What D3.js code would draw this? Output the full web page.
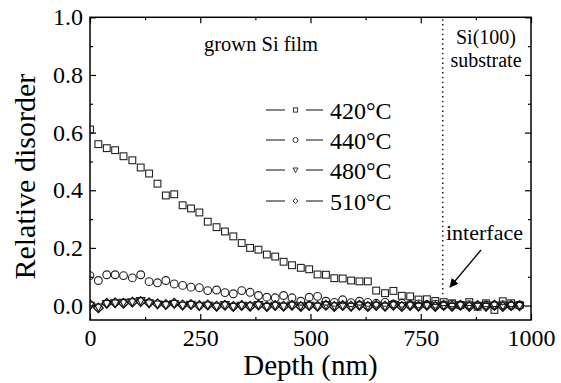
<!DOCTYPE html>
<html lang="en">
<head>
<meta charset="UTF-8">
<title>Relative disorder vs depth</title>
<script src="https://cdn.jsdelivr.net/npm/d3@7"></script>
<style>
  body { margin: 0; background: #fff; }
  svg { font-family: "Liberation Serif", "Times New Roman", serif; }
</style>
</head>
<body>
<div id="chart"></div>
<script>
// depth points (nm), shared by all four series
var depth = [0, 19, 38, 57, 76, 96, 115, 134, 153, 172, 191, 210, 229, 248, 267, 287,
  306, 325, 344, 363, 382, 401, 420, 439, 458, 478, 497, 516, 535, 554, 573, 592,
  611, 630, 649, 669, 688, 707, 726, 745, 764, 783, 802, 821, 840, 860, 879, 898,
  917, 936, 955, 974];

var d420 = [0.611, 0.56, 0.546, 0.539, 0.518, 0.504, 0.479, 0.458, 0.423, 0.382, 0.386,
  0.348, 0.337, 0.323, 0.291, 0.272, 0.257, 0.240, 0.217, 0.200, 0.194, 0.177, 0.170,
  0.152, 0.140, 0.131, 0.126, 0.108, 0.107, 0.095, 0.094, 0.087, 0.084, 0.084, 0.052,
  0.043, 0.051, 0.034, 0.032, 0.021, 0.022, 0.016, 0.012, 0.008, 0.002, 0.012, -0.004,
  0.008, -0.015, 0.015, 0.008, 0.002];

var d440 = [0.104, 0.087, 0.107, 0.107, 0.104, 0.096, 0.107, 0.083, 0.079, 0.087, 0.075,
  0.070, 0.064, 0.062, 0.052, 0.054, 0.045, 0.041, 0.052, 0.046, 0.035, 0.029, 0.027,
  0.035, 0.027, 0.015, 0.029, 0.032, 0.015, 0.011, 0.020, 0.010, 0.015, 0.011, 0.008,
  0.011, 0.006, 0.008, 0.004, 0.006, 0.003, 0.005, 0.002, 0.004, 0.001, 0.003, 0.0,
  0.002, 0.001, 0.003, 0.0, 0.002];

var d480 = [0.0, -0.006, 0.006, 0.008, 0.01, 0.012, 0.016, 0.008, 0.004, 0.002, 0.006,
  0.0, 0.003, -0.002, 0.001, -0.003, 0.002, -0.004, 0.0, -0.002, 0.002, -0.004, 0.0,
  -0.003, 0.001, -0.002, 0.0, -0.003, 0.002, -0.002, 0.0, -0.004, 0.001, -0.002, 0.0,
  -0.003, 0.002, -0.001, 0.0, -0.003, 0.001, -0.002, 0.0, -0.004, 0.001, -0.002, 0.0,
  -0.004, 0.001, -0.002, 0.0, -0.001];

var d510 = [0.004, -0.008, 0.008, 0.01, 0.008, 0.012, 0.014, 0.01, 0.006, 0.004, 0.008,
  0.002, 0.004, 0.0, 0.002, -0.002, 0.001, -0.003, 0.0, -0.002, 0.002, -0.003, 0.0,
  -0.002, 0.001, -0.003, 0.0, -0.002, 0.001, -0.003, 0.0, -0.002, 0.001, -0.003, 0.0,
  -0.002, 0.001, -0.003, 0.0, -0.002, 0.001, -0.003, 0.0, -0.002, 0.001, -0.003, 0.0,
  -0.002, 0.001, -0.003, 0.0, -0.001];

var seriesNames = ["420°C", "440°C", "480°C", "510°C"];
var seriesVals = [d420, d440, d480, d510];
var xTicks = [0, 250, 500, 750, 1000];
var xMinor = [125, 375, 625, 875];
var yTicks = [0.0, 0.2, 0.4, 0.6, 0.8, 1.0];
var yMinor = [0.1, 0.3, 0.5, 0.7, 0.9];

var W = 561, H = 383;
var pL = 90, pR = 531, pT = 17.3, pB = 320;

var svg = d3.select("#chart").append("svg")
    .attr("width", W).attr("height", H);

var x = d3.scaleLinear().domain([0, 1000]).range([pL, pR]);
var y = d3.scaleLinear().domain([-0.05, 1.0]).range([pB, pT]);

svg.append("clipPath").attr("id", "plot")
  .append("rect")
    .attr("x", pL).attr("y", pT)
    .attr("width", pR - pL).attr("height", pB - pT);

// symbols
var shapes = [
  function(g, s) { g.append("rect").attr("x", -s/2).attr("y", -s/2).attr("width", s).attr("height", s); },
  function(g, s) { g.append("circle").attr("r", s/2); },
  function(g, s) { g.append("path").attr("d", "M" + (-s/2) + "," + (-s*0.4) + "L" + (s/2) + "," + (-s*0.4) + "L0," + (s*0.5) + "Z"); },
  function(g, s) { g.append("path").attr("d", "M0," + (-s/2) + "L" + (s/2) + ",0L0," + (s/2) + "L" + (-s/2) + ",0Z"); }
];
var sizes = [6.8, 7.8, 8.4, 9.6];

var plot = svg.append("g").attr("clip-path", "url(#plot)");

seriesVals.forEach(function(vals, k) {
  plot.append("g")
    .attr("class", "s" + k)
    .selectAll("g")
    .data(depth.map(function(d, i) { return [d, vals[i]]; }))
    .enter().append("g")
      .attr("transform", function(d) { return "translate(" + x(d[0]) + "," + y(d[1]) + ")"; })
      .each(function() { shapes[k](d3.select(this), sizes[k]); });
});
plot.selectAll("rect, circle, path")
    .attr("fill", "none")
    .attr("stroke", "#222")
    .attr("stroke-width", 1.1);
plot.selectAll(".s3 path").attr("stroke", "#111").attr("stroke-width", 1.3);

// dotted interface line
svg.append("line")
    .attr("x1", x(800)).attr("x2", x(800))
    .attr("y1", pT + 2).attr("y2", y(0.028))
    .attr("stroke", "#000").attr("stroke-width", 1.3)
    .attr("stroke-dasharray", "1.4,3.4");

// axes (ticks inward)
svg.append("g").attr("transform", "translate(0," + pB + ")")
    .call(d3.axisBottom(x).tickValues(xTicks).tickSize(-6).tickPadding(9).tickFormat(d3.format("d")));
svg.append("g").attr("transform", "translate(0," + pB + ")")
    .call(d3.axisBottom(x).tickValues(xMinor).tickSize(-3).tickFormat(""));
svg.append("g").attr("transform", "translate(0," + pT + ")")
    .call(d3.axisTop(x).tickValues(xTicks).tickSize(-6).tickFormat(""));
svg.append("g").attr("transform", "translate(0," + pT + ")")
    .call(d3.axisTop(x).tickValues(xMinor).tickSize(-3).tickFormat(""));
svg.append("g").attr("transform", "translate(" + pL + ",0)")
    .call(d3.axisLeft(y).tickValues(yTicks).tickSize(-6).tickPadding(7).tickFormat(d3.format(".1f")));
svg.append("g").attr("transform", "translate(" + pL + ",0)")
    .call(d3.axisLeft(y).tickValues(yMinor).tickSize(-3).tickFormat(""));
svg.append("g").attr("transform", "translate(" + pR + ",0)")
    .call(d3.axisRight(y).tickValues(yTicks).tickSize(-6).tickFormat(""));
svg.append("g").attr("transform", "translate(" + pR + ",0)")
    .call(d3.axisRight(y).tickValues(yMinor).tickSize(-3).tickFormat(""));

svg.selectAll(".domain").remove();
svg.selectAll(".tick line").attr("stroke", "#000").attr("stroke-width", 1.2);
svg.selectAll(".tick text")
    .attr("font-family", "Liberation Serif, serif")
    .attr("font-size", 24).attr("fill", "#000");

svg.append("rect")
    .attr("x", pL).attr("y", pT)
    .attr("width", pR - pL).attr("height", pB - pT)
    .attr("fill", "none").attr("stroke", "#000").attr("stroke-width", 1.5);

// axis titles
svg.append("text")
    .attr("x", (pL + pR) / 2).attr("y", 375)
    .attr("text-anchor", "middle").attr("font-size", 29)
    .text("Depth (nm)");
svg.append("text")
    .attr("transform", "translate(35," + ((pT + pB) / 2 + 8) + ") rotate(-90)")
    .attr("text-anchor", "middle").attr("font-size", 30)
    .text("Relative disorder");

// annotations
svg.append("text").attr("x", 204).attr("y", 51).attr("font-size", 20.5).text("grown Si film");
svg.append("text").attr("x", 486).attr("y", 44).attr("text-anchor", "middle").attr("font-size", 20).text("Si(100)");
svg.append("text").attr("x", 486).attr("y", 67).attr("text-anchor", "middle").attr("font-size", 20).text("substrate");
svg.append("text").attr("x", 446).attr("y", 240).attr("font-size", 22).text("interface");

svg.append("defs").append("marker")
    .attr("id", "arrow").attr("viewBox", "0 0 10 10")
    .attr("refX", 9).attr("refY", 5)
    .attr("markerWidth", 9).attr("markerHeight", 9)
    .attr("markerUnits", "userSpaceOnUse")
    .attr("orient", "auto")
  .append("path").attr("d", "M0,0L10,5L0,10Z").attr("fill", "#000");
svg.append("line")
    .attr("x1", 481).attr("y1", 250).attr("x2", 450).attr("y2", 287)
    .attr("stroke", "#000").attr("stroke-width", 1.3)
    .attr("marker-end", "url(#arrow)");

// legend
var legY = [110, 140, 170, 201];
var leg = svg.append("g");
seriesNames.forEach(function(name, k) {
  var g = leg.append("g").attr("transform", "translate(0," + legY[k] + ")");
  g.append("line").attr("x1", 266).attr("x2", 285).attr("stroke", "#444").attr("stroke-width", 1.3);
  g.append("line").attr("x1", 306).attr("x2", 323).attr("stroke", "#444").attr("stroke-width", 1.3);
  var m = g.append("g").attr("transform", "translate(295.5,0)");
  shapes[k](m, k === 0 ? 4.2 : 5);
  m.selectAll("*").attr("fill", "none").attr("stroke", "#222").attr("stroke-width", 0.9);
  g.append("text").attr("x", 330).attr("y", 8.5).attr("font-size", 24).text(name);
});
</script>
</body>
</html>
